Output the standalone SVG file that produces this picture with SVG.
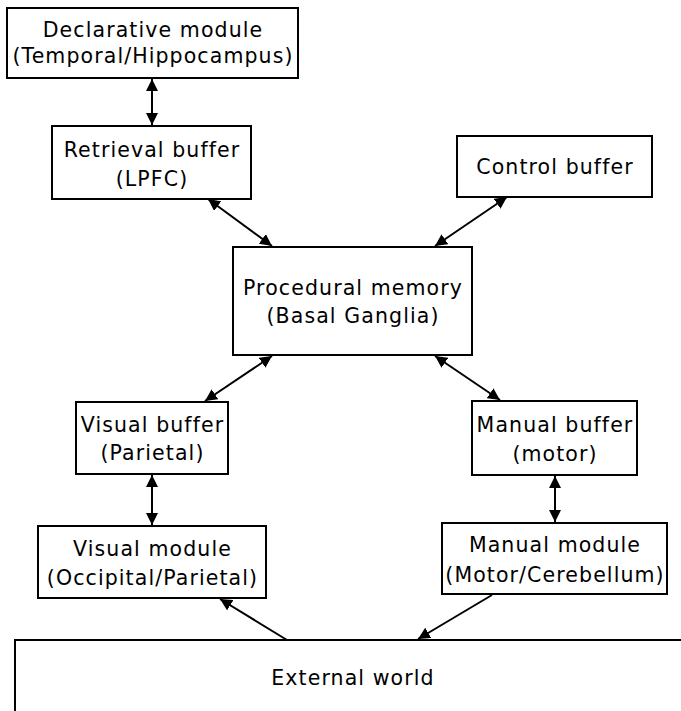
<svg xmlns="http://www.w3.org/2000/svg" width="681" height="711" viewBox="0 0 681 711">
<style>
  .box { fill: #fff; stroke: #000; stroke-width: 2; }
  .lbl { font-family: "DejaVu Sans", sans-serif; font-size: 20.5px; letter-spacing: 1.1px; fill: #000; text-anchor: middle; }
  .con { stroke: #000; stroke-width: 2; fill: none; }
</style>
<defs>
  <marker id="ah" markerUnits="userSpaceOnUse" markerWidth="13" markerHeight="12" refX="12" refY="6" orient="auto-start-reverse" viewBox="0 0 13 12">
    <path d="M0,0 L12,6 L0,12 z" fill="#000"/>
  </marker>
</defs>
<rect width="681" height="711" fill="#fff"/>
<g id="declarative">
  <rect class="box" x="7" y="8" width="291" height="70"/>
  <text class="lbl" x="153" y="37">Declarative module</text>
  <text class="lbl" x="153" y="63">(Temporal/Hippocampus)</text>
</g>
<g id="retrieval">
  <rect class="box" x="52" y="126" width="199" height="73"/>
  <text class="lbl" x="152" y="157">Retrieval buffer</text>
  <text class="lbl" x="152" y="186">(LPFC)</text>
</g>
<g id="control">
  <rect class="box" x="457" y="136" width="195" height="61"/>
  <text class="lbl" x="555" y="174">Control buffer</text>
</g>
<g id="procedural">
  <rect class="box" x="233" y="247" width="239" height="108"/>
  <text class="lbl" x="353" y="295">Procedural memory</text>
  <text class="lbl" x="353" y="323">(Basal Ganglia)</text>
</g>
<g id="visual-buffer">
  <rect class="box" x="76" y="402" width="152" height="72"/>
  <text class="lbl" x="152.5" y="432">Visual buffer</text>
  <text class="lbl" x="152.5" y="460">(Parietal)</text>
</g>
<g id="manual-buffer">
  <rect class="box" x="472" y="401" width="165" height="74"/>
  <text class="lbl" x="555" y="432">Manual buffer</text>
  <text class="lbl" x="555" y="461">(motor)</text>
</g>
<g id="visual-module">
  <rect class="box" x="38" y="526" width="228" height="72"/>
  <text class="lbl" x="152.5" y="556">Visual module</text>
  <text class="lbl" x="152.5" y="585">(Occipital/Parietal)</text>
</g>
<g id="manual-module">
  <rect class="box" x="442" y="523" width="225" height="71"/>
  <text class="lbl" x="555" y="552">Manual module</text>
  <text class="lbl" x="555" y="582">(Motor/Cerebellum)</text>
</g>
<g id="external-world">
  <path class="con" d="M15,711 L15,640 L681,640"/>
  <text class="lbl" x="353" y="685">External world</text>
</g>
<g id="connectors">
  <line class="con" x1="152" y1="79" x2="152" y2="125" marker-start="url(#ah)" marker-end="url(#ah)"/>
  <line class="con" x1="208" y1="199" x2="272" y2="246" marker-start="url(#ah)" marker-end="url(#ah)"/>
  <line class="con" x1="507" y1="197" x2="435" y2="246" marker-start="url(#ah)" marker-end="url(#ah)"/>
  <line class="con" x1="272" y1="356" x2="205" y2="401" marker-start="url(#ah)" marker-end="url(#ah)"/>
  <line class="con" x1="435" y1="356" x2="500" y2="400" marker-start="url(#ah)" marker-end="url(#ah)"/>
  <line class="con" x1="152" y1="475" x2="152" y2="525" marker-start="url(#ah)" marker-end="url(#ah)"/>
  <line class="con" x1="555" y1="476" x2="555" y2="522" marker-start="url(#ah)" marker-end="url(#ah)"/>
  <line class="con" x1="287" y1="640" x2="220" y2="599" marker-end="url(#ah)"/>
  <line class="con" x1="492" y1="595" x2="418" y2="639" marker-end="url(#ah)"/>
</g>
</svg>
